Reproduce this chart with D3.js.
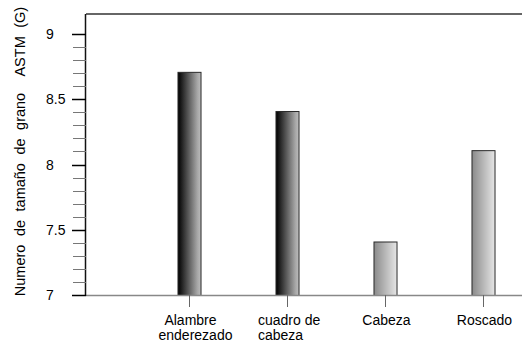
<!DOCTYPE html>
<html>
<head>
<meta charset="utf-8">
<script src="https://cdn.jsdelivr.net/npm/d3@7"></script>
<style>
  html, body { margin: 0; padding: 0; background: #fff; }
  svg { display: block; }
  text { font-family: "Liberation Sans", Arial, sans-serif; fill: #000; }
</style>
</head>
<body>
<svg id="chart" width="522" height="342"></svg>
<script>
// Grain size number per wire-processing stage
const categories = ["Alambre enderezado", "cuadro de cabeza", "Cabeza", "Roscado"];
const labelLines = [["Alambre", "enderezado"], ["cuadro de", "cabeza"], ["Cabeza"], ["Roscado"]];
const grainSize = [8.71, 8.41, 7.41, 8.11];
const shade = ["dark", "dark", "light", "light"];
const majorTicks = [7, 7.5, 8, 8.5, 9];
const minorTicks = d3.range(7, 9.01, 0.1);
const yTitle = "Numero de tamaño de grano  ASTM (G)";

const svg = d3.select("#chart");
const W = 522, H = 342;
const plotLeft = 86, plotTop = 14, plotBottom = 295;

const y = d3.scaleLinear().domain([7, 9]).range([plotBottom, 34]);
const x = d3.scaleBand().domain(categories).range([140, 532])
  .paddingInner(0.765).paddingOuter(0.3825);

// Gradients for the bars
const defs = svg.append("defs");
const grads = {
  dark: [["0%", "#000"], ["85%", "#a8a8a8"], ["100%", "#bdbdbd"]],
  light: [["0%", "#8a8a8a"], ["100%", "#e6e6e6"]]
};
Object.entries(grads).forEach(([k, stops]) => {
  const g = defs.append("linearGradient").attr("id", "g-" + k)
    .attr("x1", "0%").attr("x2", "100%").attr("y1", "0%").attr("y2", "0%");
  stops.forEach(([o, c]) => g.append("stop").attr("offset", o).attr("stop-color", c));
});

// Top frame line
svg.append("line").attr("x1", plotLeft).attr("x2", W).attr("y1", plotTop).attr("y2", plotTop)
  .attr("stroke", "#333").attr("stroke-width", 1.6);

// Bars
svg.append("g").selectAll("rect").data(categories).join("rect")
  .attr("x", d => x(d) + 0.5)
  .attr("width", x.bandwidth())
  .attr("y", (d, i) => y(grainSize[i]) + 0.5)
  .attr("height", (d, i) => y(7) - y(grainSize[i]))
  .attr("fill", (d, i) => `url(#g-${shade[i]})`)
  .attr("stroke", "#2a2a2a").attr("stroke-width", 1);

// X baseline
svg.append("line").attr("x1", plotLeft).attr("x2", W).attr("y1", plotBottom + 0.5).attr("y2", plotBottom + 0.5)
  .attr("stroke", "#888").attr("stroke-width", 1.5);

// X ticks and labels
const xg = svg.append("g");
categories.forEach((c, i) => {
  const cx = x(c) + x.bandwidth() / 2 + 0.5;
  xg.append("line").attr("x1", cx).attr("x2", cx).attr("y1", plotBottom).attr("y2", plotBottom + 12)
    .attr("stroke", "#666").attr("stroke-width", 1);
  const lines = labelLines[i];
  const t = xg.append("text").attr("font-size", 14);
  if (i === 1) {
    t.attr("text-anchor", "start");
    lines.forEach((l, j) => t.append("tspan").attr("x", cx - 29.5).attr("y", 325 + j * 15).text(l));
  } else {
    t.attr("text-anchor", "middle");
    lines.forEach((l, j) => t.append("tspan").attr("x", cx + (j === 1 ? 6 : 1)).attr("y", 325 + j * 15).text(l));
  }
});

// Y axis: line, minor and major ticks
svg.append("line").attr("x1", plotLeft - 0.5).attr("x2", plotLeft - 0.5).attr("y1", plotTop).attr("y2", plotBottom + 1)
  .attr("stroke", "#111").attr("stroke-width", 1.5);
svg.append("g").selectAll("line").data(minorTicks).join("line")
  .attr("x1", 73).attr("x2", plotLeft).attr("y1", d => Math.round(y(d)) + 0.5).attr("y2", d => Math.round(y(d)) + 0.5)
  .attr("stroke", "#777").attr("stroke-width", 1);
svg.append("g").selectAll("line").data(majorTicks).join("line")
  .attr("x1", 72).attr("x2", plotLeft).attr("y1", d => Math.round(y(d)) + 0.5).attr("y2", d => Math.round(y(d)) + 0.5)
  .attr("stroke", "#000").attr("stroke-width", 1.5);
svg.append("g").selectAll("text").data(majorTicks).join("text")
  .attr("x", 46).attr("y", d => y(d) + 5).attr("font-size", 14)
  .text(d => d3.format("")(d));

// Y title
svg.append("text")
  .attr("transform", `translate(25,151.5) rotate(-90)`)
  .attr("text-anchor", "middle").attr("font-size", 14.5)
  .attr("word-spacing", 4.5)
  .attr("xml:space", "preserve")
  .style("white-space", "pre")
  .text(yTitle);
</script>
</body>
</html>
